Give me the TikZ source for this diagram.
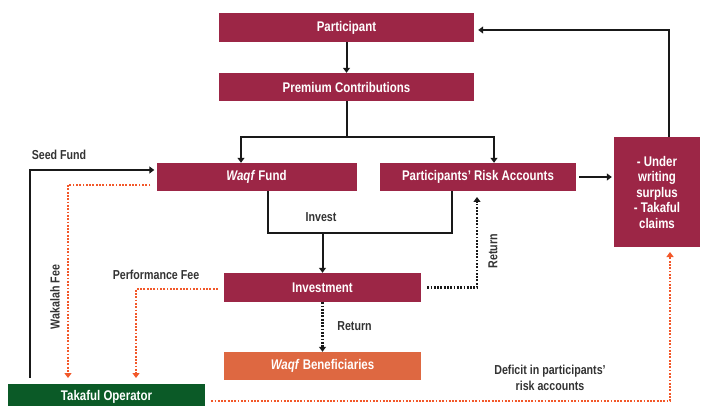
\documentclass[tikz,border=0pt]{standalone}
\usepackage{fontspec}
\setmainfont{Liberation Sans}[FakeStretch=0.82]
\usetikzlibrary{arrows.meta}
\definecolor{boxred}{HTML}{9C2646}
\definecolor{boxgreen}{HTML}{0B5A27}
\definecolor{boxorange}{HTML}{DE6841}
\definecolor{dotorange}{HTML}{F2582A}
\tikzset{
  box/.style={rectangle, fill=boxred, text=white, font=\fontsize{14}{15.5}\selectfont\bfseries, inner sep=0pt, align=center},
  lbl/.style={font=\fontsize{13}{15.5}\selectfont\bfseries, text=black!80, inner sep=0pt, align=center},
  blk/.style={draw=black!90, line width=2pt},
  arr/.style={blk, -{Triangle[width=7pt,length=5pt]}},
  darr/.style={draw=black!90, line width=2.2pt, dash pattern=on 1.8pt off 1.5pt, -{Triangle[width=7pt,length=5pt]}},
  oarr/.style={draw=dotorange, line width=2.2pt, dash pattern=on 1.8pt off 1.5pt, -{Triangle[width=7pt,length=5pt]}},
}
\begin{document}
\begin{tikzpicture}[x=1pt,y=-1pt]
\useasboundingbox (0,0) rectangle (701,406);
% boxes
\node[box, minimum width=255pt, minimum height=29pt] (part) at (346.5,27.5) {Participant};
\node[box, minimum width=255pt, minimum height=28pt] (prem) at (346.5,87) {Premium Contributions};
\node[box, minimum width=200pt, minimum height=28pt] (waqf) at (256.5,177) {\textit{Waqf} Fund};
\node[box, minimum width=196pt, minimum height=28pt] (risk) at (478,177) {Participants' Risk Accounts};
\node[box, minimum width=86pt, minimum height=110pt] (surp) at (657,192) {- Under\\writing\\surplus\\- Takaful\\claims};
\node[box, minimum width=197pt, minimum height=29pt] (invest) at (322.5,287.5) {Investment};
\node[box, fill=boxorange, minimum width=197pt, minimum height=28pt] (benef) at (322.5,366) {\textit{Waqf} Beneficiaries};
\node[box, fill=boxgreen, minimum width=197pt, minimum height=26pt] (tak) at (106.5,397) {Takaful Operator};
% coordinates
\coordinate (split) at (346.5,137);
\coordinate (inv) at (322.5,233);
\coordinate (retr) at (477,197);
\coordinate (wak) at (68,378);
\coordinate (perf) at (136,378);
\coordinate (def) at (670,252);
\coordinate (topr) at (669,30);
% black connectors
\draw[arr] (part) -- (prem);
\draw[blk] (prem.south) -- (split);
\draw[arr] (split) -| ([xshift=-15.5pt]waqf.north);
\draw[arr] (split) -| ([xshift=16pt]risk.north);
\draw[blk] ([xshift=11.5pt]waqf.south) |- (inv) -| ([xshift=-26pt]risk.south);
\draw[arr] (inv) -- (invest.north);
\draw[arr] ([xshift=3pt]risk.east) -- ([xshift=-2pt]surp.west |- risk.east);
\draw[arr] (surp.north -| topr) -- (topr) -- ([xshift=4pt,yshift=-2.5pt]part.east);
\draw[arr] ([xshift=22pt,yshift=6pt]tak.north west) |- ([xshift=-2pt,yshift=7pt]waqf.west);
% dotted connectors
\draw[darr] (invest.south) -- (benef.north);
\draw[darr] ([xshift=6pt]invest.east) -| (retr);
\draw[oarr] ([xshift=-6pt,yshift=-8pt]waqf.west) -| (wak);
\draw[oarr] ([xshift=-6pt,yshift=-1.5pt]invest.west) -| (perf);
\draw[oarr] ([xshift=6pt,yshift=-4pt]tak.east) -| (def);
% labels
\node[lbl] (lseed) at (59,155) {Seed Fund};
\node[lbl, rotate=90] (lwak) at (55,297) {Wakalah Fee};
\node[lbl] (lperf) at (156,275) {Performance Fee};
\node[lbl] (linv) at (321,217) {Invest};
\node[lbl] (lret1) at (354.5,326) {Return};
\node[lbl, rotate=90] (lret2) at (493,251) {Return};
\node[lbl] (ldef) at (550,378) {Deficit in participants'\\risk accounts};
\end{tikzpicture}
\end{document}
